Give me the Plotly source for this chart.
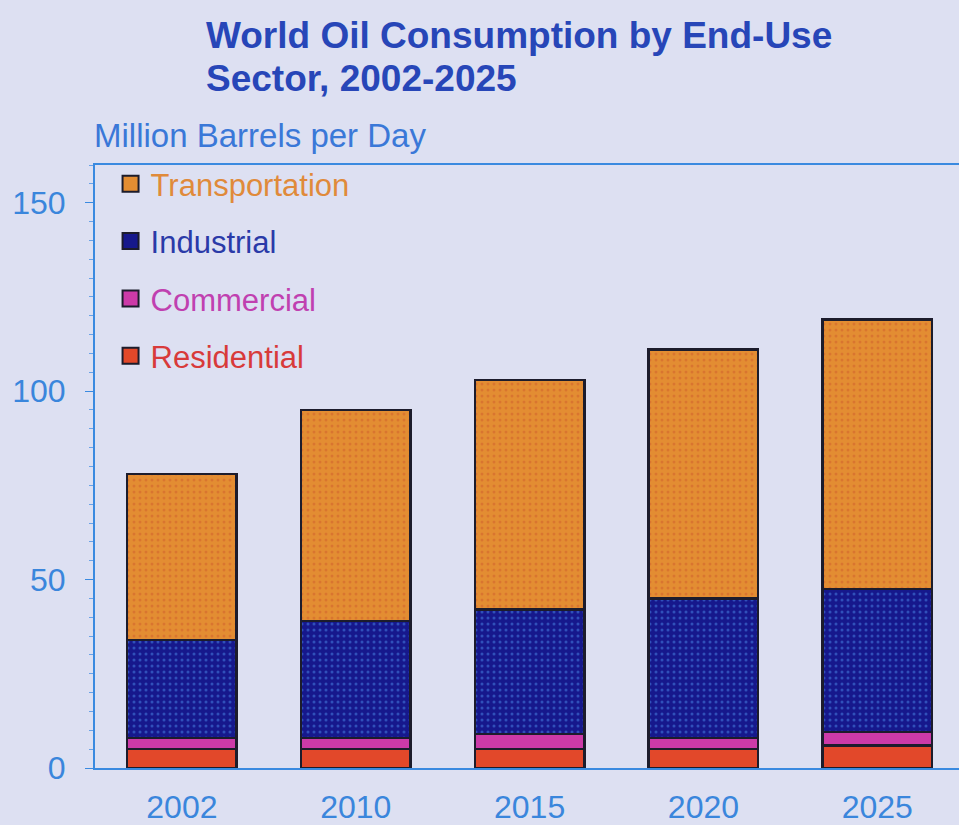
import plotly.graph_objects as go

years = ["2002", "2010", "2015", "2020", "2025"]
residential = [5, 5, 5, 5, 6]
commercial = [3, 3, 4, 3, 3.5]
industrial = [26, 31, 33, 37, 38]
transportation = [44, 56, 61, 66, 71.5]
totals = [78, 95, 103, 111, 119]

FONT = "Liberation Sans, Arial, sans-serif"
BG = "#dde0f2"

# name, values, fill, dot colour, pattern shape, legend text colour, legend rank
series = [
    ("Residential", residential, "#e2482a", "#c83a22", "", "#d83a3a", 4),
    ("Commercial", commercial, "#cc3aa8", "#e070d0", "", "#c040b0", 3),
    ("Industrial", industrial, "#16188c", "#4a88e8", ".", "#2a3aa8", 2),
    ("Transportation", transportation, "#e38d32", "#cf5e2c", ".", "#e08a3a", 1),
]

fig = go.Figure()
for name, vals, col, fg, shape, tcol, rank in series:
    fig.add_trace(go.Bar(
        x=years, y=vals, name=name, showlegend=False,
        width=0.63,
        marker=dict(
            color=col,
            line=dict(color="#1c1c2c", width=2.5),
            pattern=dict(shape=shape, fgcolor=fg, bgcolor=col, size=6, solidity=0.2),
        ),
    ))
# legend entries (larger swatches)
for name, vals, col, fg, shape, tcol, rank in series:
    fig.add_trace(go.Scatter(
        x=[None], y=[None], mode="markers",
        name=f"<span style='color:{tcol}'>{name}</span>",
        legendgroup=name, legendrank=rank,
        marker=dict(symbol="square", size=16, color=col,
                    line=dict(color="#1c1c2c", width=2)),
    ))

for yr, tot in zip(years, totals):
    fig.add_annotation(x=yr, y=tot, text=f"<b>{tot}</b>", showarrow=False,
                       yanchor="bottom", yshift=8,
                       font=dict(family=FONT, size=29, color="#2f66d2"))

# title (two lines)
fig.add_annotation(xref="paper", yref="paper", x=(204 - 95) / 864, y=1 + (165 - 35) / 603,
                   xanchor="left", yanchor="middle", align="left", showarrow=False,
                   text="<b>World Oil Consumption by End-Use</b>",
                   font=dict(family=FONT, size=37, color="#2746b8"))
fig.add_annotation(xref="paper", yref="paper", x=(204 - 95) / 864, y=1 + (165 - 78) / 603,
                   xanchor="left", yanchor="middle", align="left", showarrow=False,
                   text="<b>Sector, 2002-2025</b>",
                   font=dict(family=FONT, size=37, color="#2746b8"))
# unit label
fig.add_annotation(xref="paper", yref="paper", x=-0.004, y=1 + (165 - 135) / 603,
                   xanchor="left", yanchor="middle", showarrow=False,
                   text="Million Barrels per Day",
                   font=dict(family=FONT, size=33, color="#3a78d8"))

fig.update_layout(
    width=959, height=825,
    margin=dict(l=95, r=0, t=165, b=57),
    paper_bgcolor=BG, plot_bgcolor=BG,
    barmode="stack",
    showlegend=True,
    legend=dict(x=0.018, y=1.013, xanchor="left", yanchor="top",
                traceorder="grouped", tracegroupgap=14, itemsizing="trace",
                bgcolor="rgba(0,0,0,0)", font=dict(family=FONT, size=31)),
    xaxis=dict(range=[-0.5, 4.47], showline=True, linecolor="#3a8ae0", linewidth=2,
               mirror=True, ticks="", ticklabelstandoff=10,
               tickfont=dict(family=FONT, size=32, color="#3a86dc")),
    yaxis=dict(range=[0, 160], tickvals=[0, 50, 100, 150], showgrid=False, zeroline=False,
               showline=True, linecolor="#3a8ae0", linewidth=2,
               ticks="outside", ticklen=8, tickcolor="#3a8ae0", ticklabelstandoff=13,
               minor=dict(ticks="outside", ticklen=4, dtick=5, tickcolor="#6aa2e6", showgrid=False),
               tickfont=dict(family=FONT, size=32, color="#3a86dc")),
)

fig.write_html("out.html", config={"displayModeBar": False},
               post_script="document.body.style.margin='0';document.body.style.overflow='hidden';")
